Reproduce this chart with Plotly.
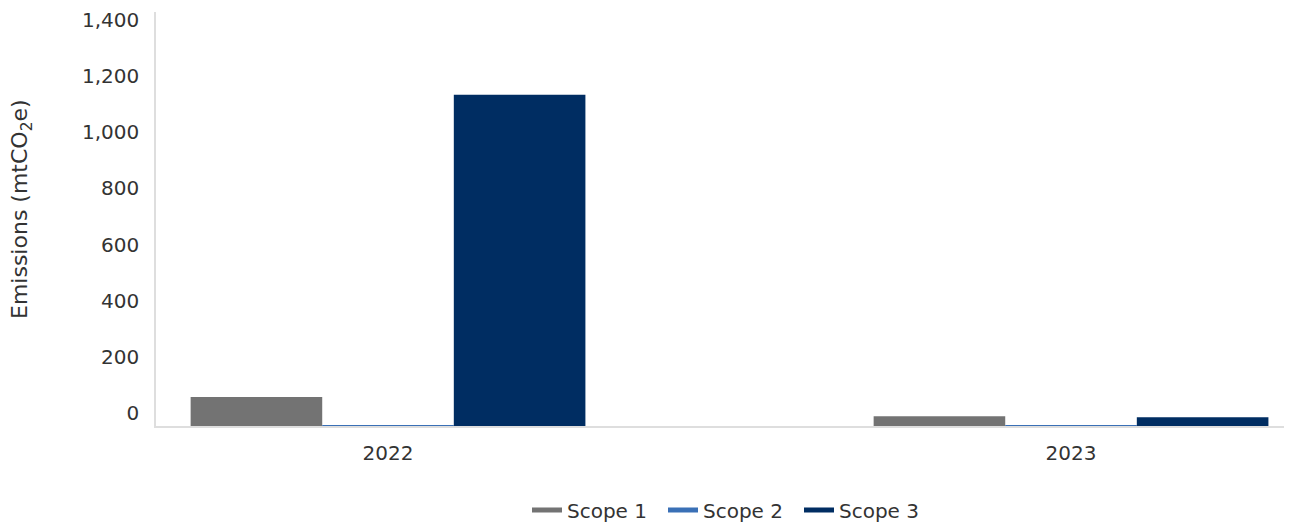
import plotly.graph_objects as go

years = ["2022", "2023"]
scope1 = [103, 35]
scope2 = [3, 2]
scope3 = [1180, 31]
series_names = ["Scope 1", "Scope 2", "Scope 3"]
colors = ["#737373", "#3a70b6", "#002d62"]
y_ticks = [0, 200, 400, 600, 800, 1000, 1200, 1400]
y_tick_labels = ["0", "200", "400", "600", "800", "1,000", "1,200", "1,400"]

FONT = "DejaVu Sans"
TXT = "#333333"
W, H = 1284, 514
L, R, T, B = 148, 2, 4, 96
fig = go.Figure()
for name, vals, c in zip(series_names, [scope1, scope2, scope3], colors):
    fig.add_trace(go.Bar(x=years, y=vals, name=name, marker=dict(color=c, line=dict(width=0)),
                         showlegend=False))
for name, c in zip(series_names, colors):
    fig.add_trace(go.Scatter(x=[None], y=[None], mode="lines", name=name,
                             line=dict(color=c, width=5), showlegend=True))

ph = H - T - B
pw = W - L - R
fig.update_layout(
    width=W, height=H,
    margin=dict(l=L, r=R, t=T, b=B, autoexpand=False),
    paper_bgcolor="white", plot_bgcolor="white",
    barmode="group", bargap=0.422, bargroupgap=0,
    font=dict(family=FONT, color=TXT, size=20),
    legend=dict(orientation="h", x=0.5 + 8 / pw, xanchor="center", y=-84 / ph, yanchor="middle",
                font=dict(size=20, color=TXT), itemwidth=30, tracegroupgap=0,
                entrywidth=91, entrywidthmode="pixels"),
    annotations=[dict(text="Emissions (mtCO<sub>2</sub>e)", textangle=-90,
                      xref="paper", yref="paper", x=-(L - 13) / pw, y=1 - (209 - 12) / ph,
                      xanchor="center", yanchor="middle", showarrow=False,
                      font=dict(size=22, color=TXT))],
)
fig.update_xaxes(
    type="category", range=[-0.3397, 1.3206], automargin=False,
    showline=True, linecolor="#dedede", linewidth=1.5,
    showgrid=False, ticks="", ticklabelstandoff=8,
    tickfont=dict(size=20, color=TXT),
)
fig.update_yaxes(
    range=[0, 1475], tickvals=y_ticks, ticktext=y_tick_labels, automargin=False,
    showline=True, linecolor="#dedede", linewidth=1.5,
    showgrid=False, zeroline=False, ticks="", ticklabelstandoff=11, ticklabelshift=-13,
    tickfont=dict(size=20, color=TXT),
)
fig.write_html("out.html")
